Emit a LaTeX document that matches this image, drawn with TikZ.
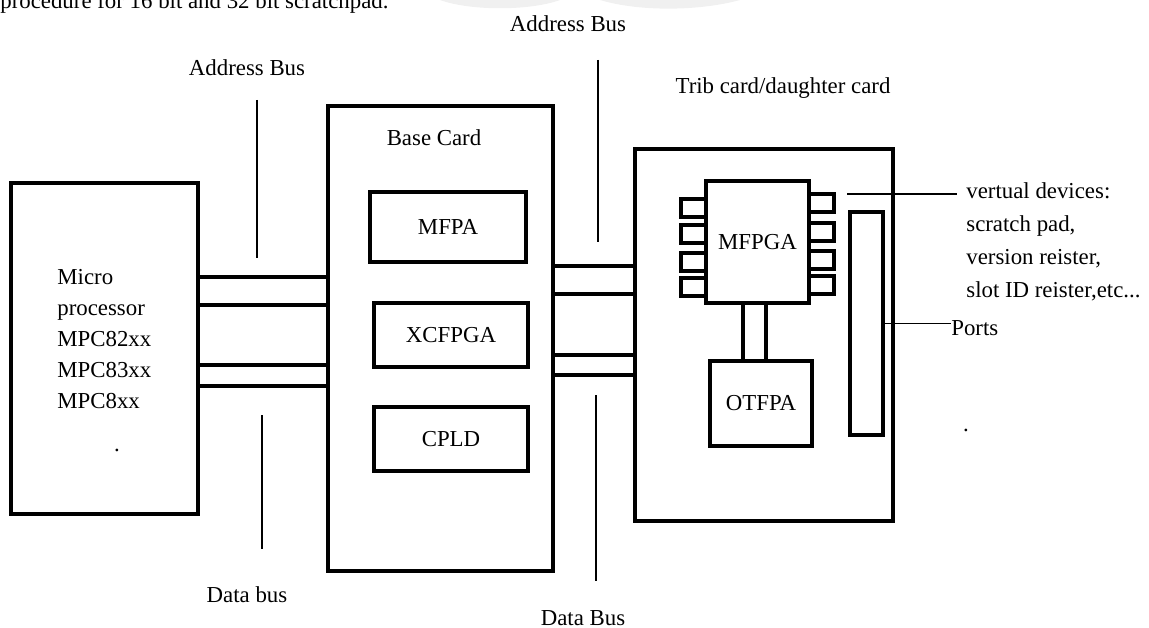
\documentclass[tikz,border=0pt]{standalone}
\usepackage{fontspec}
\setmainfont{Liberation Serif}
\usetikzlibrary{positioning}

\begin{document}
\begin{tikzpicture}[x=0.02cm,y=-0.02cm]
    \tikzset{blk/.style={draw,line width=2.2pt,inner sep=0pt,font=\fontsize{13}{16}\selectfont},
      pin/.style={draw,fill=white,line width=2.2pt,minimum width=0.56cm,minimum height=0.36cm,inner sep=0pt},
      bus/.style={line width=2.2pt,line cap=round},
      thin/.style={line width=0.8pt},
      lbl/.style={inner sep=0pt,font=\fontsize{13}{16}\selectfont}}
    \useasboundingbox (0,0) rectangle (1149,628);
    % cut-off line of the page above the figure
    \begin{scope}
      \clip (0,0) rectangle (1149,628);
      \node[lbl,anchor=base west] (caption) at (0,9) {procedure for 16 bit and 32 bit scratchpad.};
      \fill[gray!12] (440,0) .. controls (470,11) and (530,11) .. (560,0) -- cycle;
      \fill[gray!12] (600,0) .. controls (640,12) and (700,11) .. (740,0) -- cycle;
    \end{scope}

    % cards
    \node[blk,minimum width=3.74cm,minimum height=6.62cm] (micro) at (104.5,348.5) {};
    \node[lbl,align=left,anchor=west,font=\fontsize{13}{17.6}\selectfont] (microtxt) at (57,339) {Micro\\processor\\MPC82xx\\MPC83xx\\MPC8xx};
    \node[lbl] (dotL) at (117,450) {.};

    \node[blk,minimum width=4.5cm,minimum height=9.3cm] (base) at (440.5,338.5) {};
    \node[lbl] (basetxt) at (434,138) {Base Card};
    \node[blk,minimum width=3.12cm,minimum height=1.4cm] (mfpa) at (448,227) {MFPA};
    \node[blk,minimum width=3.08cm,minimum height=1.28cm] (xcfpga) at (451,335) {XCFPGA};
    \node[blk,minimum width=3.08cm,minimum height=1.28cm] (cpld) at (451,439) {CPLD};

    \node[blk,minimum width=5.16cm,minimum height=7.44cm] (trib) at (764,335) {};
    \node[lbl] (tribtxt) at (783,88) {Trib card/daughter card};
    \foreach \y [count=\i] in {208,234,262,287}
      \node[pin] (pinL\i) at (695,\y) {};
    \foreach \y [count=\i] in {203,232,260,285}
      \node[pin] (pinR\i) at (820,\y) {};
    \node[blk,fill=white,minimum width=2.06cm,minimum height=2.44cm] (mfpga) at (757.5,242) {MFPGA};
    \node[blk,minimum width=2.04cm,minimum height=1.7cm] (otfpa) at (761,403.5) {OTFPA};
    \node[blk,minimum width=0.66cm,minimum height=4.46cm] (ports) at (866.5,323.5) {};
    \draw[bus] ([xshift=-0.29cm]mfpga.south) -- ([xshift=-0.29cm]mfpga.south |- otfpa.north);
    \draw[bus] ([xshift=0.17cm]mfpga.south) -- ([xshift=0.17cm]mfpga.south |- otfpa.north);

    % buses
    \coordinate (la1) at (0,277);
    \coordinate (la2) at (0,305);
    \coordinate (ld1) at (0,365);
    \coordinate (ld2) at (0,386);
    \coordinate (ra1) at (0,266);
    \coordinate (ra2) at (0,294);
    \coordinate (rd1) at (0,355);
    \coordinate (rd2) at (0,375);
    \foreach \c in {la1,la2,ld1,ld2}
      \draw[bus] (micro.east |- \c) -- (base.west |- \c);
    \foreach \c in {ra1,ra2,rd1,rd2}
      \draw[bus] (base.east |- \c) -- (trib.west |- \c);

    \node[lbl] (addrL) at (247,68) {Address Bus};
    \node[lbl] (dataL) at (247,595) {Data bus};
    \node[lbl] (addrM) at (568,24) {Address Bus};
    \node[lbl] (dataM) at (583,618) {Data Bus};
    \coordinate (abL1) at (257,100);
    \coordinate (abL2) at (257,258);
    \coordinate (dbL1) at (262,415);
    \coordinate (dbL2) at (262,549);
    \coordinate (abM1) at (598,60);
    \coordinate (abM2) at (598,242);
    \coordinate (dbM1) at (596,395);
    \coordinate (dbM2) at (596,581);
    \draw[thin] (abL1) -- (abL2);
    \draw[thin] (dbL1) -- (dbL2);
    \draw[thin] (abM1) -- (abM2);
    \draw[thin] (dbM1) -- (dbM2);

    % notes on the right
    \node[lbl,align=left,anchor=west,font=\fontsize{13}{18.8}\selectfont] (devs) at (966,242) {vertual devices:\\scratch pad,\\version reister,\\slot ID reister,etc...};
    \coordinate (vd1) at (847,194);
    \coordinate (vd2) at (957,194);
    \draw[thin] (vd1) -- (vd2);
    \node[lbl,anchor=west] (portstxt) at (951,328) {Ports};
    \draw[thin] (ports.east) -- (ports.east -| portstxt.west);
    \node[lbl] (dotR) at (966,430) {.};
  \end{tikzpicture}
\end{document}
